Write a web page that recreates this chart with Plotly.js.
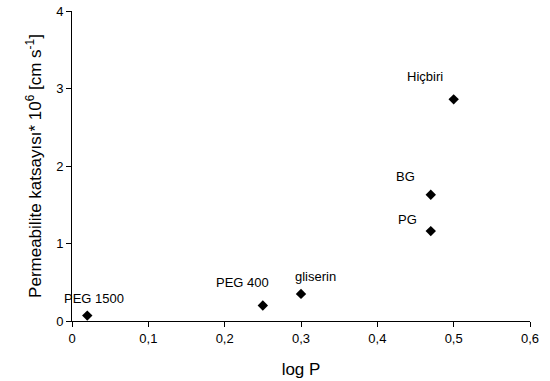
<!DOCTYPE html>
<html>
<head>
<meta charset="utf-8">
<script src="https://cdn.plot.ly/plotly-3.0.1.min.js"></script>
<style>html,body{margin:0;padding:0;background:#fff;}#chart{width:550px;height:381px;}</style>
</head>
<body>
<div id="chart"></div>
<script>
const names = ["PEG 1500", "PEG 400", "gliserin", "PG", "BG", "Hiçbiri"];
const logP = [0.02, 0.25, 0.30, 0.47, 0.47, 0.50];
const permeability = [0.07, 0.20, 0.35, 1.16, 1.63, 2.86];
const xTicks = [0, 0.1, 0.2, 0.3, 0.4, 0.5, 0.6];
const xTickLabels = ["0", "0,1", "0,2", "0,3", "0,4", "0,5", "0,6"];
const yTicks = [0, 1, 2, 3, 4];
const yTickLabels = ["0", "1", "2", "3", "4"];
// label offsets in pixels relative to each point
const labelShiftX = [7, -20, 14, -23, -25, -29];
const labelShiftY = [17, 23, 17, 12, 18, 23];

const FONT = "Liberation Sans, Arial, sans-serif";

const trace = {
  x: logP, y: permeability, type: "scatter", mode: "markers",
  marker: {symbol: "diamond", size: 8, color: "#000"},
  hoverinfo: "none", cliponaxis: false
};

const annotations = names.map((n, i) => ({
  x: logP[i], y: permeability[i], xref: "x", yref: "y",
  text: n, showarrow: false, xshift: labelShiftX[i], yshift: labelShiftY[i],
  font: {family: FONT, size: 13, color: "#000"}
}));

const layout = {
  width: 550, height: 381,
  margin: {l: 72, r: 20, t: 11, b: 60},
  paper_bgcolor: "#fff", plot_bgcolor: "#fff",
  showlegend: false,
  separators: ",.",
  font: {family: FONT, color: "#000"},
  xaxis: {
    range: [0, 0.6], tickvals: xTicks, ticktext: xTickLabels,
    showgrid: false, zeroline: false, showline: true, linecolor: "#000", linewidth: 1,
    ticks: "outside", ticklen: 5, tickcolor: "#000",
    tickfont: {family: FONT, size: 13, color: "#000"},
    title: {text: "log P", font: {family: FONT, size: 17, color: "#000"}, standoff: 18}
  },
  yaxis: {
    range: [0, 4], tickvals: yTicks, ticktext: yTickLabels,
    showgrid: false, zeroline: false, showline: true, linecolor: "#000", linewidth: 1,
    ticks: "outside", ticklen: 5, tickcolor: "#000",
    tickfont: {family: FONT, size: 13, color: "#000"},
    title: {text: "Permeabilite katsayısı* 10<sup>6</sup> [cm s<sup>-1</sup>]", font: {family: FONT, size: 17, color: "#000"}, standoff: 10}
  },
  annotations: annotations
};

Plotly.newPlot("chart", [trace], layout, {staticPlot: true, displayModeBar: false});
</script>
</body>
</html>
